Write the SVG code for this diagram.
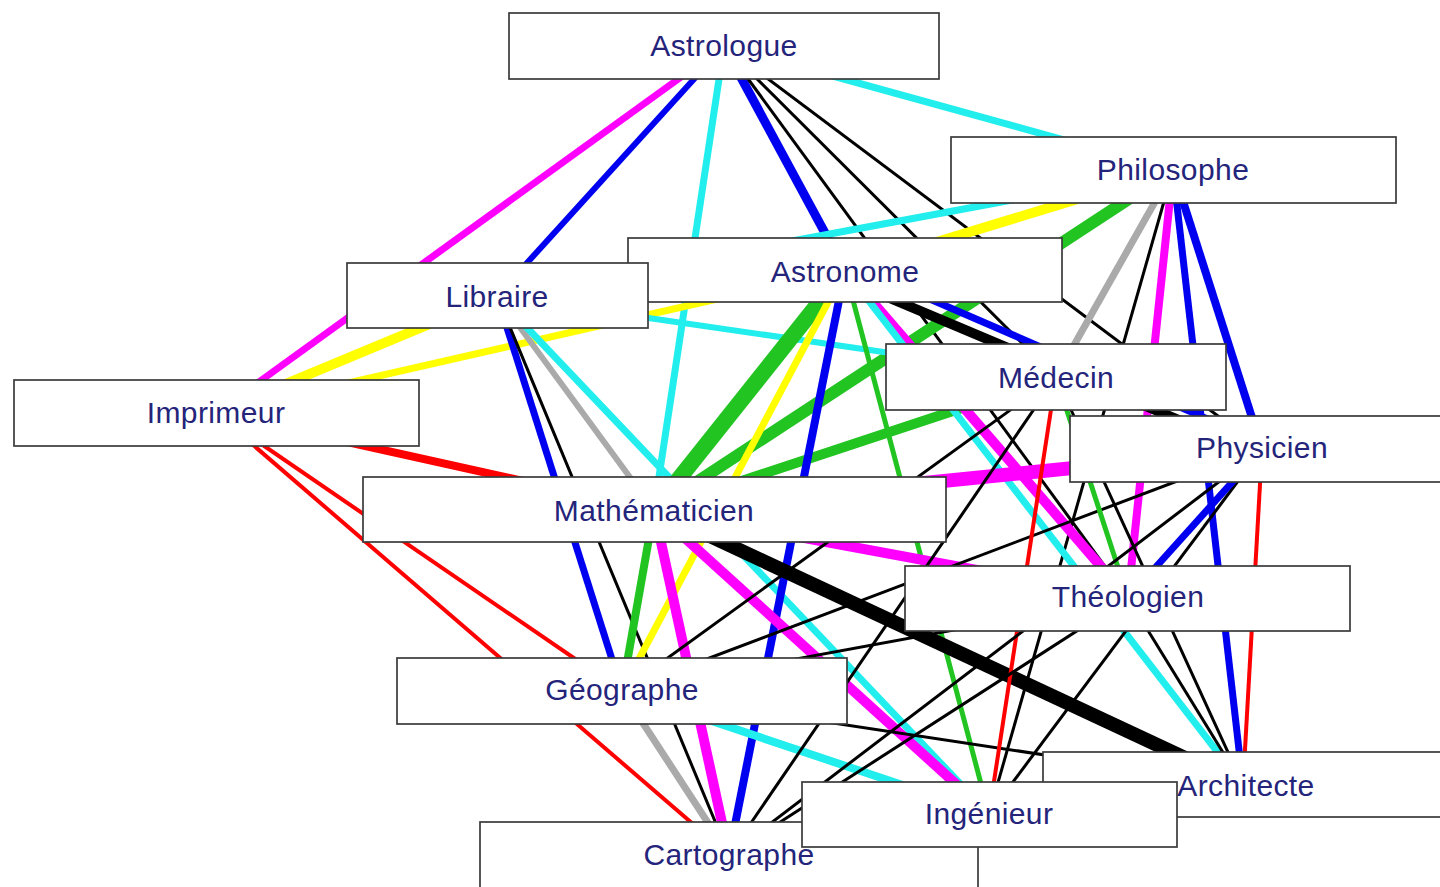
<svg xmlns="http://www.w3.org/2000/svg" width="1440" height="887" viewBox="0 0 1440 887">
<style>
.n rect{fill:#fff;stroke:#3a3a3a;stroke-width:1.7}
.n text{font-family:"Liberation Sans",Arial,sans-serif;font-size:30px;letter-spacing:0.4px;fill:#24247a;text-anchor:middle}
.e line{fill:none;stroke-linecap:butt}
.k{stroke:#000}.r{stroke:#f00}.b{stroke:#0000f0}.c{stroke:#22eeee}.p{stroke:#ff00ff}.g{stroke:#22c422}.y{stroke:#ffff00}.s{stroke:#aaaaaa}
</style>
<rect width="1440" height="887" fill="#fff"/>
<g id="connectors" class="e">
<line class="p" x1="724" y1="46" x2="216" y2="413" stroke-width="7"/>
<line class="b" x1="724" y1="46" x2="497" y2="296" stroke-width="6"/>
<line class="c" x1="724" y1="46" x2="654" y2="510" stroke-width="7"/>
<line class="b" x1="724" y1="46" x2="845" y2="270" stroke-width="9"/>
<line class="k" x1="724" y1="46" x2="1128" y2="598" stroke-width="3"/>
<line class="k" x1="724" y1="46" x2="1056" y2="377" stroke-width="3"/>
<line class="k" x1="724" y1="46" x2="1262" y2="449" stroke-width="3"/>
<line class="c" x1="724" y1="46" x2="1173" y2="170" stroke-width="7"/>
<line class="c" x1="1173" y1="170" x2="497" y2="296" stroke-width="7"/>
<line class="y" x1="1173" y1="170" x2="845" y2="270" stroke-width="10"/>
<line class="g" x1="1173" y1="170" x2="654" y2="510" stroke-width="12"/>
<line class="s" x1="1173" y1="170" x2="1056" y2="377" stroke-width="7"/>
<line class="k" x1="1173" y1="170" x2="989" y2="814" stroke-width="3"/>
<line class="p" x1="1173" y1="170" x2="1128" y2="598" stroke-width="8"/>
<line class="b" x1="1173" y1="170" x2="1262" y2="449" stroke-width="8"/>
<line class="b" x1="1173" y1="170" x2="1243" y2="785" stroke-width="7"/>
<line class="y" x1="216" y1="413" x2="497" y2="296" stroke-width="10"/>
<line class="y" x1="216" y1="413" x2="845" y2="270" stroke-width="7"/>
<line class="c" x1="497" y1="296" x2="1056" y2="377" stroke-width="6"/>
<line class="b" x1="497" y1="296" x2="622" y2="691" stroke-width="7"/>
<line class="k" x1="497" y1="296" x2="729" y2="855" stroke-width="3"/>
<line class="s" x1="497" y1="296" x2="654" y2="510" stroke-width="6"/>
<line class="c" x1="497" y1="296" x2="989" y2="814" stroke-width="7"/>
<line class="r" x1="216" y1="413" x2="654" y2="510" stroke-width="8"/>
<line class="r" x1="216" y1="413" x2="622" y2="691" stroke-width="4"/>
<line class="r" x1="216" y1="413" x2="729" y2="855" stroke-width="4"/>
<line class="g" x1="845" y1="270" x2="654" y2="510" stroke-width="16"/>
<line class="g" x1="654" y1="510" x2="1056" y2="377" stroke-width="10"/>
<line class="y" x1="622" y1="691" x2="845" y2="270" stroke-width="7"/>
<line class="b" x1="845" y1="270" x2="729" y2="855" stroke-width="8"/>
<line class="k" x1="835" y1="275" x2="1250" y2="450" stroke-width="10"/>
<line class="b" x1="858" y1="268" x2="1270" y2="446" stroke-width="7"/>
<line class="p" x1="845" y1="270" x2="1128" y2="598" stroke-width="10"/>
<line class="c" x1="845" y1="270" x2="1243" y2="785" stroke-width="7"/>
<line class="g" x1="845" y1="270" x2="989" y2="814" stroke-width="5"/>
<line class="p" x1="654" y1="510" x2="1262" y2="449" stroke-width="14"/>
<line class="p" x1="654" y1="510" x2="1128" y2="598" stroke-width="10"/>
<line class="k" x1="654" y1="510" x2="1243" y2="785" stroke-width="14"/>
<line class="p" x1="654" y1="510" x2="989" y2="814" stroke-width="10"/>
<line class="p" x1="654" y1="510" x2="729" y2="855" stroke-width="10"/>
<line class="g" x1="654" y1="510" x2="622" y2="691" stroke-width="8"/>
<line class="s" x1="622" y1="691" x2="729" y2="855" stroke-width="7"/>
<line class="c" x1="622" y1="691" x2="989" y2="814" stroke-width="8"/>
<line class="k" x1="622" y1="691" x2="1056" y2="377" stroke-width="3"/>
<line class="k" x1="622" y1="691" x2="1262" y2="449" stroke-width="3"/>
<line class="k" x1="622" y1="691" x2="1128" y2="598" stroke-width="3"/>
<line class="k" x1="622" y1="691" x2="1243" y2="785" stroke-width="3"/>
<line class="k" x1="1056" y1="377" x2="729" y2="855" stroke-width="3"/>
<line class="k" x1="1056" y1="377" x2="1243" y2="785" stroke-width="3"/>
<line class="r" x1="1056" y1="377" x2="989" y2="814" stroke-width="4"/>
<line class="g" x1="1056" y1="377" x2="1128" y2="598" stroke-width="5"/>
<line class="k" x1="1128" y1="598" x2="1243" y2="785" stroke-width="3"/>
<line class="k" x1="1262" y1="449" x2="989" y2="814" stroke-width="3"/>
<line class="b" x1="1262" y1="449" x2="1128" y2="598" stroke-width="7"/>
<line class="r" x1="1262" y1="449" x2="1243" y2="785" stroke-width="4"/>
<line class="k" x1="1128" y1="598" x2="729" y2="855" stroke-width="3"/>
<line class="k" x1="1262" y1="449" x2="729" y2="855" stroke-width="3"/>
</g>
<g id="n-astrologue" class="n"><rect x="509" y="13" width="430" height="66"/><text x="724" y="56">Astrologue</text></g>
<g id="n-philosophe" class="n"><rect x="951" y="137" width="445" height="66"/><text x="1173" y="180">Philosophe</text></g>
<g id="n-astronome" class="n"><rect x="628" y="238" width="434" height="64"/><text x="845" y="282">Astronome</text></g>
<g id="n-libraire" class="n"><rect x="347" y="263" width="301" height="65"/><text x="497" y="307">Libraire</text></g>
<g id="n-imprimeur" class="n"><rect x="14" y="380" width="405" height="66"/><text x="216" y="423">Imprimeur</text></g>
<g id="n-medecin" class="n"><rect x="886" y="344" width="340" height="66"/><text x="1056" y="388">Médecin</text></g>
<g id="n-physicien" class="n"><rect x="1070" y="416" width="400" height="66"/><text x="1262" y="458">Physicien</text></g>
<g id="n-mathematicien" class="n"><rect x="363" y="477" width="583" height="65"/><text x="654" y="521">Mathématicien</text></g>
<g id="n-theologien" class="n"><rect x="905" y="566" width="445" height="65"/><text x="1128" y="607">Théologien</text></g>
<g id="n-geographe" class="n"><rect x="397" y="658" width="450" height="66"/><text x="622" y="700">Géographe</text></g>
<g id="n-architecte" class="n"><rect x="1043" y="752" width="420" height="65"/><text x="1246" y="796">Architecte</text></g>
<g id="n-cartographe" class="n"><rect x="480" y="822" width="498" height="90"/><text x="729" y="865">Cartographe</text></g>
<g id="n-ingenieur" class="n"><rect x="802" y="782" width="375" height="65"/><text x="989" y="824">Ingénieur</text></g>
</svg>
